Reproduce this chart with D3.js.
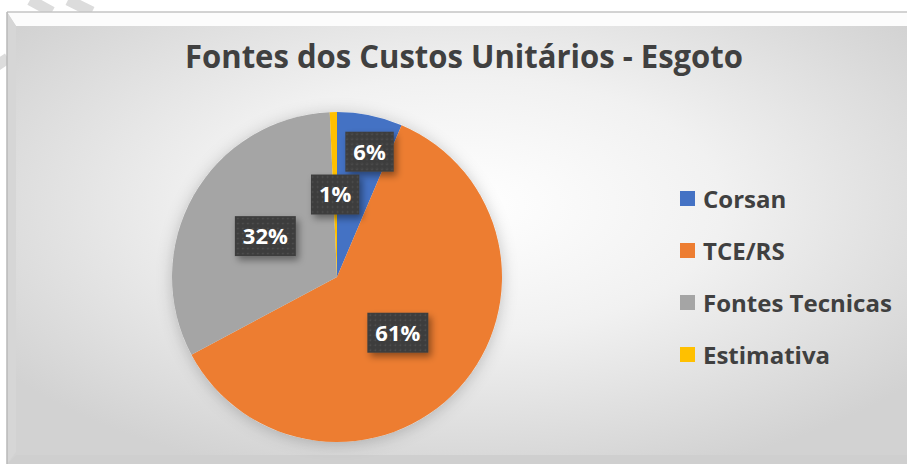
<!DOCTYPE html>
<html>
    <head>
        <meta charset="utf-8">
        <script src="https://cdn.jsdelivr.net/npm/d3@7"></script>
        <style>
            body {
                margin: 0;
                background: white;
            }
            #container {
                display: block;
            }
            text {
                font-family: "Open Sans", sans-serif;
            }
        </style>
    </head>
    <body>
        <svg id="container" width=907 height=464 viewBox="0 0 907 464">
            <defs id="defs"></defs>
            <g id="frame"></g>
            <g id="title"></g>
            <g id="pie"></g>
            <g id="labels"></g>
            <g id="legend"></g>
        </svg>
    </body>
    <script>
        // dati
        let titleText = "Fontes dos Custos Unitários - Esgoto";
        let categories = ["Corsan", "TCE/RS", "Fontes Tecnicas", "Estimativa"];
        let values = [6.4, 60.8, 32.1, 0.7];
        let colors = ["#4472C4", "#ED7D31", "#A5A5A5", "#FFC000"];

        let svg = d3.select("#container");
        let defs = d3.select("#defs");

        // sfondo con gradiente radiale come lo stile di Excel
        let grad = defs.append("radialGradient")
            .attr("id", "bg")
            .attr("cx", 0.5).attr("cy", 0.42).attr("r", 0.62)
        grad.append("stop").attr("offset", 0).attr("stop-color", "#ffffff")
        grad.append("stop").attr("offset", 0.45).attr("stop-color", "#f1f1f1")
        grad.append("stop").attr("offset", 1).attr("stop-color", "#d2d2d2")

        let shadow = defs.append("filter").attr("id", "shadow")
            .attr("x", -0.3).attr("y", -0.3).attr("width", 1.7).attr("height", 1.7)
        shadow.append("feDropShadow")
            .attr("dx", 3).attr("dy", 4).attr("stdDeviation", 3.5)
            .attr("flood-color", "#000").attr("flood-opacity", 0.4)

        let pieShadow = defs.append("filter").attr("id", "pieShadow")
            .attr("x", -0.2).attr("y", -0.2).attr("width", 1.4).attr("height", 1.4)
        pieShadow.append("feDropShadow")
            .attr("dx", 0).attr("dy", 2).attr("stdDeviation", 8)
            .attr("flood-color", "#000").attr("flood-opacity", 0.22)

        let dots = defs.append("pattern").attr("id", "dots")
            .attr("width", 5).attr("height", 5)
            .attr("patternUnits", "userSpaceOnUse")
        dots.append("rect").attr("width", 5).attr("height", 5).attr("fill", "#3e3e3e")
        dots.append("circle").attr("cx", 2.5).attr("cy", 2.5).attr("r", 0.8).attr("fill", "#545454")

        // strisce decorative in alto a sinistra
        let frame = d3.select("#frame");
        [[30, 0, 52, 12], [68, 0, 92, 12], [-10, 70, 8, 58]].forEach(s => {
            frame.append("line")
                .attr("x1", s[0]).attr("y1", s[1]).attr("x2", s[2]).attr("y2", s[3])
                .attr("stroke", "#dcdcdc").attr("stroke-width", 11)
        })

        // riquadro con bordo smussato
        let box = {x: 7, y: 12, w: 920, h: 460, b: 9};
        frame.append("rect")
            .attr("x", box.x).attr("y", box.y).attr("width", box.w).attr("height", box.h)
            .attr("fill", "url(#bg)")
        frame.append("path")
            .attr("d", `M${box.x},${box.y} L${box.x + box.w},${box.y} L${box.x + box.w - box.b},${box.y + box.b + 5} L${box.x + box.b},${box.y + box.b + 5} Z`)
            .attr("fill", "#fcfcfc")
        frame.append("path")
            .attr("d", `M${box.x},${box.y} L${box.x + box.b},${box.y + box.b + 5} L${box.x + box.b},452 L${box.x},464 Z`)
            .attr("fill", "#d6d6d6")
        frame.append("path")
            .attr("d", `M${box.x},464 L${box.x + box.b},455 L907,455 L907,464 Z`)
            .attr("fill", "#cfcfcf")
        frame.append("line")
            .attr("x1", box.x).attr("y1", box.y).attr("x2", 907).attr("y2", box.y)
            .attr("stroke", "#c4c4c4").attr("stroke-width", 1.5)
        frame.append("line")
            .attr("x1", box.x).attr("y1", box.y).attr("x2", box.x).attr("y2", 464)
            .attr("stroke", "#b8b8b8").attr("stroke-width", 1.5)

        // titolo
        let title = d3.select("#title").append("text")
            .attr("x", 464).attr("y", 68)
            .attr("text-anchor", "middle")
            .attr("font-size", 33)
            .attr("font-weight", 700)
            .attr("fill", "#404040")
            .text(titleText)
        if (title.node().getComputedTextLength() > 558) {
            title.attr("textLength", 558).attr("lengthAdjust", "spacingAndGlyphs")
        }

        // torta
        let cx = 337, cy = 277, radius = 165;
        let total = d3.sum(values);
        let pie = d3.pie().sort(null).value(d => d.value);
        let arcs = pie(categories.map((c, i) => ({name: c, value: values[i], color: colors[i]})));
        let arc = d3.arc().innerRadius(0).outerRadius(radius);

        let pieG = d3.select("#pie").attr("transform", `translate(${cx}, ${cy})`);
        pieG.append("circle").attr("r", radius).attr("fill", "#eee").attr("filter", "url(#pieShadow)")
        pieG.selectAll("path")
            .data(arcs)
            .enter()
            .append("path")
            .attr("d", arc)
            .attr("fill", d => d.data.color)

        // etichette: la fetta piccola viene spinta verso l'esterno
        let labelFactor = {"Corsan": 1.55};
        let fmt = d3.format(".0%");
        let labels = d3.select("#labels").attr("transform", `translate(${cx}, ${cy})`);
        arcs.forEach(d => {
            let k = labelFactor[d.data.name] || 1;
            let lr = radius / 2 * k;
            let a = (d.startAngle + d.endAngle) / 2;
            let x = Math.sin(a) * lr, y = -Math.cos(a) * lr;
            if (d.data.name == "Corsan") x += 7;
            let g = labels.append("g").attr("transform", `translate(${x}, ${y})`);
            let rect = g.append("rect").attr("fill", "url(#dots)").attr("filter", "url(#shadow)");
            let t = g.append("text")
                .attr("text-anchor", "middle")
                .attr("dy", "0.36em")
                .attr("font-size", 22)
                .attr("font-weight", 700)
                .attr("fill", "#fff")
                .text(fmt(d.data.value / total));
            let w = t.node().getComputedTextLength() + 16;
            rect.attr("x", -w / 2).attr("y", -20).attr("width", w).attr("height", 40)
        })

        // legenda
        let legend = d3.select("#legend").attr("transform", "translate(680, 199)");
        let rows = legend.selectAll("g")
            .data(categories)
            .enter()
            .append("g")
            .attr("transform", (d, i) => `translate(0, ${i * 52})`)
        rows.append("rect")
            .attr("x", 0).attr("y", -8).attr("width", 15).attr("height", 15)
            .attr("fill", (d, i) => colors[i])
        rows.append("text")
            .attr("x", 23).attr("y", 9)
            .attr("font-size", 24)
            .attr("font-weight", 700)
            .attr("fill", "#404040")
            .text(d => d)
    </script>
</html>
